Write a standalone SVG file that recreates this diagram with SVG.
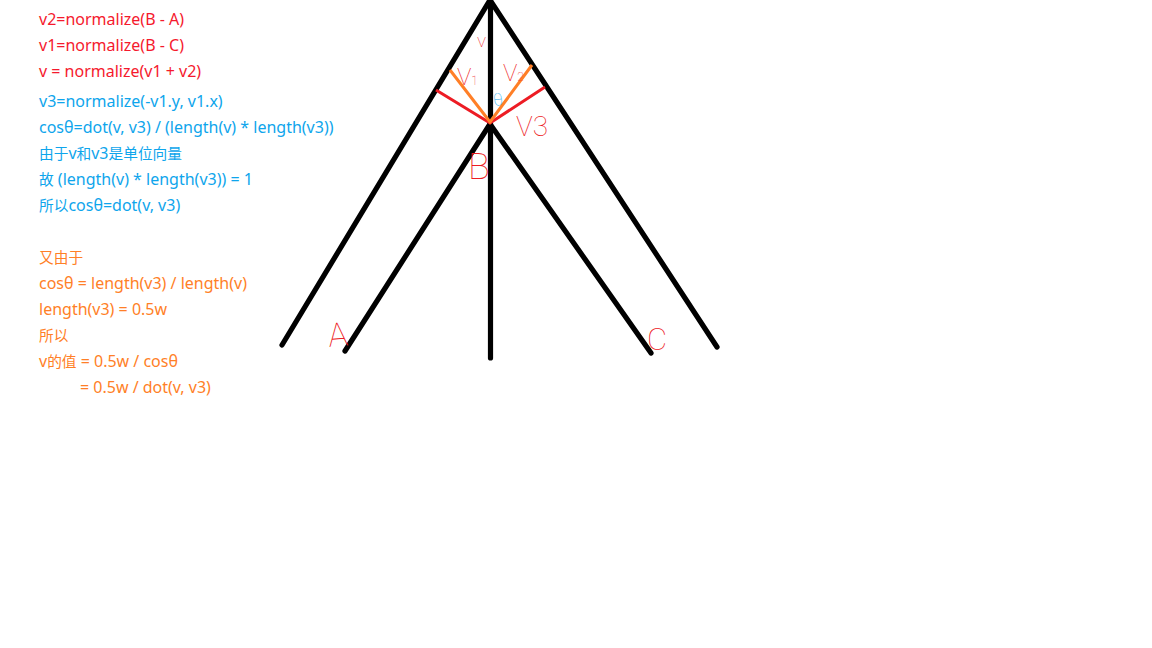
<svg xmlns="http://www.w3.org/2000/svg" width="1152" height="648" viewBox="0 0 1152 648">
<style>
text{font-family:"Noto Sans","Noto Sans CJK SC",sans-serif;font-size:16px}
.c{font-size:14.7px}
.r{fill:#f5192d}.b{fill:#0ea5ec}.o{fill:#ff7f27}
.h{fill:#ed1c24;font-family:"Roboto",sans-serif;font-weight:100}
.k{stroke:#000;stroke-width:5.200;stroke-linecap:round;fill:none}
</style>
<rect width="1152" height="648" fill="#fff"/>
<g id="connectors">
<path class="k" d="M490 0L282 345"/>
<path class="k" d="M490 0L717 347"/>
<path class="k" d="M490 124L345 351"/>
<path class="k" d="M490 124L651 353"/>
<path class="k" d="M490.500 0V358"/>
<path d="M436 90L490 123L545 87" fill="none" stroke="#ed1c24" stroke-width="3"/>
<path d="M450 70L490 122L532 65" fill="none" stroke="#ff7f27" stroke-width="3"/>
</g>
<g id="notes-red">
<text class="r" x="39" y="25">v2=normalize(B - A)</text>
<text class="r" x="39" y="51">v1=normalize(B - C)</text>
<text class="r" x="39" y="77">v = normalize(v1 + v2)</text>
</g>
<g id="notes-blue">
<text class="b" x="39" y="107">v3=normalize(-v1.y, v1.x)</text>
<text class="b" x="39" y="133">cosθ=dot(v, v3) / (length(v) * length(v3))</text>
<text class="b" x="39" y="159"><tspan class="c">由于</tspan>v<tspan class="c">和</tspan>v3<tspan class="c">是单位向量</tspan></text>
<text class="b" x="39" y="185"><tspan class="c">故</tspan> (length(v) * length(v3)) = 1</text>
<text class="b" x="39" y="211"><tspan class="c">所以</tspan>cosθ=dot(v, v3)</text>
</g>
<g id="notes-orange">
<text class="o c" x="39" y="263">又由于</text>
<text class="o" x="39" y="289">cosθ = length(v3) / length(v)</text>
<text class="o" x="39" y="315">length(v3) = 0.5w</text>
<text class="o c" x="39" y="341">所以</text>
<text class="o" x="39" y="367">v<tspan class="c">的值</tspan> = 0.5w / cosθ</text>
<text class="o" x="80" y="393">= 0.5w / dot(v, v3)</text>
</g>
<g id="label-v"><text class="h" x="477" y="47" style="font-size:19px">v</text></g>
<g id="label-v1"><text class="h" x="457" y="85" style="font-size:24px">V<tspan style="font-size:12px">1</tspan></text></g>
<g id="label-v2"><text class="h" x="503" y="81" style="font-size:24px">V<tspan style="font-size:12px">2</tspan></text></g>
<g id="label-v3"><text class="h" x="516" y="136" style="font-size:28px">V3</text></g>
<g id="label-theta"><text x="494" y="106" transform="rotate(-8 494 106)" style="font-size:17px;fill:#0ea5ec;font-family:Roboto,sans-serif;font-weight:100">θ</text></g>
<g id="label-b"><text class="h" x="468" y="179" style="font-size:36px">B</text></g>
<g id="label-a"><text class="h" x="329" y="347" style="font-size:33px" transform="rotate(-5 329 347)">A</text></g>
<g id="label-c"><text class="h" x="647" y="350" style="font-size:31px">C</text></g>
</svg>
